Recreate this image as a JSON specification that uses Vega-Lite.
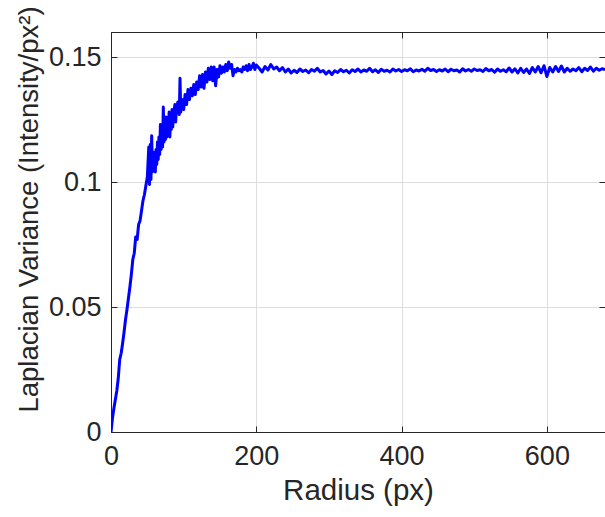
{
  "$schema": "https://vega.github.io/schema/vega-lite/v6.json",
  "width": 494,
  "height": 400,
  "autosize": {"type": "none"},
  "padding": {"left": 111, "top": 32, "right": 0, "bottom": 85},
  "background": "white",
  "config": {
    "font": "Liberation Sans",
    "view": {"stroke": "#262626", "strokeWidth": 1},
    "axis": {
      "domainColor": "#262626",
      "tickColor": "#262626",
      "tickSize": -6,
      "tickWidth": 1,
      "labelColor": "#262626",
      "labelFont": "Liberation Sans",
      "labelFontSize": 27,
      "titleFont": "Liberation Sans",
      "titleFontSize": 29.5,
      "titleFontWeight": "normal",
      "titleColor": "#262626",
      "gridColor": "#dedede",
      "gridWidth": 1
    }
  },
  "data": {
    "values": [
      {"r": 0, "v": 0}, {"r": 2, "v": 0.0055}, {"r": 4, "v": 0.0095}, {"r": 6, "v": 0.013}, {"r": 8, "v": 0.0165},
      {"r": 10, "v": 0.0215}, {"r": 12, "v": 0.029}, {"r": 14, "v": 0.0315}, {"r": 16, "v": 0.0355}, {"r": 18, "v": 0.04},
      {"r": 20, "v": 0.045}, {"r": 22, "v": 0.049}, {"r": 24, "v": 0.0535}, {"r": 26, "v": 0.058}, {"r": 28, "v": 0.063},
      {"r": 30, "v": 0.069}, {"r": 32, "v": 0.0715}, {"r": 34, "v": 0.078}, {"r": 36, "v": 0.077}, {"r": 38, "v": 0.083},
      {"r": 40, "v": 0.0845}, {"r": 42, "v": 0.0885}, {"r": 44, "v": 0.0925}, {"r": 46, "v": 0.095}, {"r": 48, "v": 0.0985},
      {"r": 50, "v": 0.102}, {"r": 52, "v": 0.114}, {"r": 53, "v": 0.099}, {"r": 54, "v": 0.115}, {"r": 55, "v": 0.101},
      {"r": 56, "v": 0.1185}, {"r": 57, "v": 0.104}, {"r": 58, "v": 0.112}, {"r": 59, "v": 0.105}, {"r": 60, "v": 0.11},
      {"r": 61, "v": 0.104}, {"r": 62, "v": 0.113}, {"r": 63, "v": 0.107}, {"r": 64, "v": 0.116}, {"r": 65, "v": 0.109},
      {"r": 66, "v": 0.118}, {"r": 67, "v": 0.111}, {"r": 68, "v": 0.123}, {"r": 69, "v": 0.113}, {"r": 70, "v": 0.12},
      {"r": 71, "v": 0.114}, {"r": 72, "v": 0.13}, {"r": 73, "v": 0.116}, {"r": 74, "v": 0.124}, {"r": 75, "v": 0.117},
      {"r": 76, "v": 0.126}, {"r": 77, "v": 0.118}, {"r": 78, "v": 0.124}, {"r": 79, "v": 0.119}, {"r": 80, "v": 0.128},
      {"r": 81, "v": 0.118}, {"r": 82, "v": 0.125}, {"r": 83, "v": 0.121}, {"r": 84, "v": 0.129}, {"r": 85, "v": 0.122},
      {"r": 86, "v": 0.127}, {"r": 88, "v": 0.131}, {"r": 89, "v": 0.124}, {"r": 90, "v": 0.129},
      {"r": 92, "v": 0.132}, {"r": 94, "v": 0.127}, {"r": 95, "v": 0.1415}, {"r": 96, "v": 0.128}, {"r": 98, "v": 0.133},
      {"r": 100, "v": 0.129}, {"r": 102, "v": 0.135}, {"r": 104, "v": 0.131}, {"r": 106, "v": 0.137}, {"r": 108, "v": 0.133},
      {"r": 110, "v": 0.1375}, {"r": 112, "v": 0.1345}, {"r": 114, "v": 0.139}, {"r": 116, "v": 0.135}, {"r": 118, "v": 0.14},
      {"r": 120, "v": 0.137}, {"r": 122, "v": 0.1425}, {"r": 124, "v": 0.138}, {"r": 126, "v": 0.143}, {"r": 128, "v": 0.1375},
      {"r": 130, "v": 0.144}, {"r": 132, "v": 0.14}, {"r": 134, "v": 0.1455}, {"r": 136, "v": 0.141}, {"r": 138, "v": 0.146},
      {"r": 140, "v": 0.1405}, {"r": 142, "v": 0.146}, {"r": 144, "v": 0.1385}, {"r": 146, "v": 0.145}, {"r": 148, "v": 0.142},
      {"r": 150, "v": 0.1465}, {"r": 152, "v": 0.1435}, {"r": 154, "v": 0.146}, {"r": 156, "v": 0.144}, {"r": 158, "v": 0.147},
      {"r": 160, "v": 0.1445}, {"r": 162, "v": 0.148}, {"r": 164, "v": 0.1455}, {"r": 166, "v": 0.147}, {"r": 168, "v": 0.1425},
      {"r": 170, "v": 0.145}, {"r": 172, "v": 0.144}, {"r": 174, "v": 0.1455}, {"r": 176, "v": 0.1445}, {"r": 178, "v": 0.145},
      {"r": 180, "v": 0.144}, {"r": 182, "v": 0.146}, {"r": 184, "v": 0.145}, {"r": 186, "v": 0.1465}, {"r": 188, "v": 0.1445},
      {"r": 190, "v": 0.147}, {"r": 192, "v": 0.145}, {"r": 194, "v": 0.146}, {"r": 196, "v": 0.1475}, {"r": 198, "v": 0.145},
      {"r": 200, "v": 0.1468}, {"r": 204, "v": 0.1455}, {"r": 208, "v": 0.144}, {"r": 212, "v": 0.1462}, {"r": 216, "v": 0.1448},
      {"r": 220, "v": 0.147}, {"r": 224, "v": 0.1452}, {"r": 228, "v": 0.146}, {"r": 232, "v": 0.1445}, {"r": 236, "v": 0.1458},
      {"r": 240, "v": 0.144}, {"r": 244, "v": 0.1452}, {"r": 248, "v": 0.1436}, {"r": 252, "v": 0.1447}, {"r": 256, "v": 0.1438},
      {"r": 260, "v": 0.1452}, {"r": 264, "v": 0.1442}, {"r": 268, "v": 0.1448}, {"r": 272, "v": 0.1437}, {"r": 276, "v": 0.145},
      {"r": 280, "v": 0.1443}, {"r": 284, "v": 0.1455}, {"r": 288, "v": 0.144}, {"r": 292, "v": 0.1446}, {"r": 296, "v": 0.1432},
      {"r": 300, "v": 0.1444}, {"r": 304, "v": 0.143}, {"r": 308, "v": 0.1445}, {"r": 312, "v": 0.1438}, {"r": 316, "v": 0.145},
      {"r": 320, "v": 0.1441}, {"r": 324, "v": 0.1447}, {"r": 328, "v": 0.1436}, {"r": 332, "v": 0.1449}, {"r": 336, "v": 0.1442},
      {"r": 340, "v": 0.1452}, {"r": 344, "v": 0.144}, {"r": 348, "v": 0.1448}, {"r": 352, "v": 0.1443}, {"r": 356, "v": 0.1455},
      {"r": 360, "v": 0.1441}, {"r": 364, "v": 0.1449}, {"r": 368, "v": 0.1438}, {"r": 372, "v": 0.1451}, {"r": 376, "v": 0.1443},
      {"r": 380, "v": 0.1447}, {"r": 384, "v": 0.144}, {"r": 388, "v": 0.1452}, {"r": 392, "v": 0.1444}, {"r": 396, "v": 0.145},
      {"r": 400, "v": 0.1442}, {"r": 404, "v": 0.1449}, {"r": 408, "v": 0.1445}, {"r": 412, "v": 0.1453}, {"r": 416, "v": 0.1441},
      {"r": 420, "v": 0.1448}, {"r": 424, "v": 0.1444}, {"r": 428, "v": 0.1451}, {"r": 432, "v": 0.1443}, {"r": 436, "v": 0.1455},
      {"r": 440, "v": 0.1446}, {"r": 444, "v": 0.145}, {"r": 448, "v": 0.1442}, {"r": 452, "v": 0.1449}, {"r": 456, "v": 0.1444},
      {"r": 460, "v": 0.1452}, {"r": 464, "v": 0.1441}, {"r": 468, "v": 0.1451}, {"r": 472, "v": 0.1445}, {"r": 476, "v": 0.1448},
      {"r": 480, "v": 0.144}, {"r": 484, "v": 0.1453}, {"r": 488, "v": 0.1444}, {"r": 492, "v": 0.145}, {"r": 496, "v": 0.1443},
      {"r": 500, "v": 0.1452}, {"r": 504, "v": 0.1446}, {"r": 508, "v": 0.1449}, {"r": 512, "v": 0.1442}, {"r": 516, "v": 0.1454},
      {"r": 520, "v": 0.1445}, {"r": 524, "v": 0.145}, {"r": 528, "v": 0.1439}, {"r": 532, "v": 0.1452}, {"r": 536, "v": 0.1443},
      {"r": 540, "v": 0.1449}, {"r": 544, "v": 0.1441}, {"r": 548, "v": 0.1456}, {"r": 552, "v": 0.144}, {"r": 556, "v": 0.1453},
      {"r": 560, "v": 0.1436}, {"r": 564, "v": 0.1455}, {"r": 568, "v": 0.1438}, {"r": 572, "v": 0.1452}, {"r": 576, "v": 0.1434},
      {"r": 580, "v": 0.1458}, {"r": 584, "v": 0.144}, {"r": 588, "v": 0.1462}, {"r": 592, "v": 0.1437}, {"r": 596, "v": 0.1465},
      {"r": 600, "v": 0.1422}, {"r": 604, "v": 0.1458}, {"r": 608, "v": 0.144}, {"r": 612, "v": 0.1462}, {"r": 616, "v": 0.1442},
      {"r": 620, "v": 0.1464}, {"r": 624, "v": 0.144}, {"r": 628, "v": 0.1455}, {"r": 632, "v": 0.1443}, {"r": 636, "v": 0.1452},
      {"r": 640, "v": 0.1445}, {"r": 644, "v": 0.1458}, {"r": 648, "v": 0.1441}, {"r": 652, "v": 0.1455}, {"r": 656, "v": 0.1446},
      {"r": 660, "v": 0.146}, {"r": 664, "v": 0.1443}, {"r": 668, "v": 0.1455}, {"r": 672, "v": 0.1447}, {"r": 676, "v": 0.1453},
      {"r": 680, "v": 0.145}
    ]
  },
  "layer": [
    {
      "mark": {"type": "line", "color": "#0000ff", "strokeWidth": 3, "strokeJoin": "round", "clip": true},
      "encoding": {
        "x": {
          "field": "r", "type": "quantitative",
          "scale": {"domain": [0, 680], "nice": false, "zero": false},
          "axis": {"orient": "bottom", "title": "Radius (px)", "values": [0, 200, 400, 600], "grid": true, "labelPadding": 17, "titlePadding": 7, "labelFlush": false}
        },
        "y": {
          "field": "v", "type": "quantitative",
          "scale": {"domain": [0, 0.16], "nice": false, "zero": false},
          "axis": {"orient": "left", "title": "Laplacian Variance (Intensity/px²)", "titleFontSize": 27.5, "titleY": 177, "values": [0, 0.05, 0.1, 0.15], "format": "~g", "grid": true, "labelPadding": 16, "titlePadding": 5, "labelFlush": false}
        }
      }
    },
    {
      "mark": {"type": "line", "opacity": 0},
      "encoding": {
        "x": {
          "field": "r", "type": "quantitative",
          "scale": {"domain": [0, 680], "nice": false, "zero": false},
          "axis": {"orient": "top", "title": null, "labels": false, "grid": false, "values": [0, 200, 400, 600]}
        },
        "y": {
          "field": "v", "type": "quantitative",
          "scale": {"domain": [0, 0.16], "nice": false, "zero": false},
          "axis": {"orient": "right", "title": null, "labels": false, "grid": false, "values": [0, 0.05, 0.1, 0.15]}
        }
      }
    }
  ],
  "resolve": {"axis": {"x": "independent", "y": "independent"}}
}
